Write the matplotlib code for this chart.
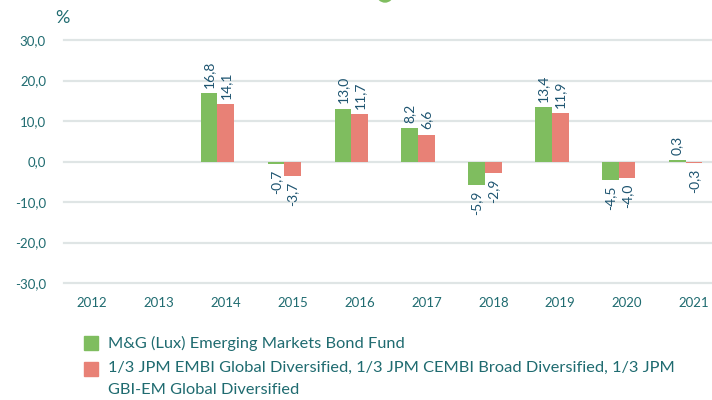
import matplotlib
matplotlib.use("Agg")
import matplotlib.pyplot as plt
import numpy as np
from matplotlib.patches import Ellipse, Rectangle

years = ["2012", "2013", "2014", "2015", "2016", "2017", "2018", "2019", "2020", "2021"]
fund = [np.nan, np.nan, 16.8, -0.7, 13.0, 8.2, -5.9, 13.4, -4.5, 0.3]
bench = [np.nan, np.nan, 14.1, -3.7, 11.7, 6.6, -2.9, 11.9, -4.0, -0.3]
legend_lines = ["M&G (Lux) Emerging Markets Bond Fund",
                "1/3 JPM EMBI Global Diversified, 1/3 JPM CEMBI Broad Diversified, 1/3 JPM",
                "GBI-EM Global Diversified"]
yticks = [30, 20, 10, 0, -10, -20, -30]

GREEN = "#7fbd5f"
RED = "#e88176"
TICK = "#1f6b70"
LAB = "#1d5470"
GRID = "#dfe5e5"

plt.rcParams['font.family'] = ['Lato', 'DejaVu Sans']

fig = plt.figure(figsize=(7.12, 4.0), dpi=100)
ax = fig.add_axes([64/712, 117/400, 648/712, 243/400])

x = np.arange(len(years))
w = 0.25
b1 = ax.bar(x - 0.25, fund, w, color=GREEN, zorder=3)
b2 = ax.bar(x, bench, w, color=RED, zorder=3)

def fmt(v):
    return f"{v:.1f}".replace(".", ",")

for xs, vals in ((x - 0.25, fund), (x, bench)):
    for xi, v in zip(xs, vals):
        if np.isnan(v):
            continue
        if v >= 0:
            ax.annotate(fmt(v), (xi, v), xytext=(0, 4), textcoords="offset points",
                        rotation=90, ha="center", va="bottom", fontsize=10, color=LAB)
        else:
            ax.annotate(fmt(v), (xi, v), xytext=(0, -4), textcoords="offset points",
                        rotation=90, ha="center", va="top", fontsize=10, color=LAB)

for t in yticks:
    ax.axhline(t, color=GRID, lw=1.6, zorder=1, clip_on=False)

ax.set_ylim(-30, 30)
ax.set_xlim(-0.42, 9.27)
ax.set_yticks(yticks)
ax.set_yticklabels([fmt(t) for t in yticks], fontsize=9.5, color=TICK)
ax.set_xticks(x)
ax.set_xticklabels(years, fontsize=9.5, color=TICK)
ax.tick_params(length=0)
ax.tick_params(axis='y', pad=13)
ax.tick_params(axis='x', pad=10)
for s in ax.spines.values():
    s.set_visible(False)

fig.text(55/712, 1 - 18/400, "%", fontsize=13, color=TICK, va="center", ha="left")

# legend (manual, to match wrapped layout)
for col, ytop in ((GREEN, 336), (RED, 362)):
    fig.patches.append(Rectangle((84/712, 1 - (ytop + 14)/400), 14/712, 14/400,
                                 color=col, transform=fig.transFigure, figure=fig))
for txt, yc in zip(legend_lines, (343, 368, 390)):
    fig.text(108/712, 1 - yc/400, txt, fontsize=11.8, color=TICK, va="center", ha="left")

fig.patches.append(Ellipse((385/712, 1 + 6/400), 16/712, 16/400, color=GREEN,
                           transform=fig.transFigure, figure=fig))

fig.savefig("out.png", dpi=100)
